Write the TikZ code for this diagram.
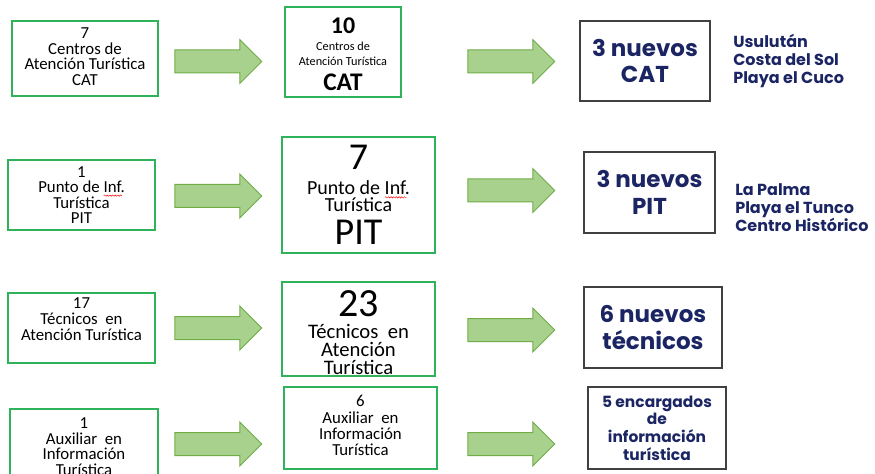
\documentclass[tikz,border=0pt]{standalone}
\usepackage{fontspec}
\usepackage{xcolor}
\setmainfont{Carlito}
\newfontfamily\navyfont{Poppins}
\usetikzlibrary{shapes.arrows}
\usetikzlibrary{decorations.pathmorphing}

\definecolor{boxgreen}{HTML}{2EB35A}
\definecolor{arrowfill}{HTML}{A9D18E}
\definecolor{arrowline}{HTML}{70AD47}
\definecolor{navyblue}{HTML}{1B2563}
\definecolor{framegray}{HTML}{404040}

\newcommand{\pxu}{0.75pt}
\newcommand{\tightlines}{\lineskiplimit=-30pt\relax}
\newcommand{\padabove}[1]{\rule{0pt}{#1}}
\newcommand{\padbelow}[1]{\rule[-#1]{0pt}{#1}}
\newlength{\spellwidth}
\newcommand{\spellwave}[1]{\settowidth{\spellwidth}{#1}\rlap{\tikz[baseline=0pt]\draw[red, line width=0.35pt, decorate, decoration={snake, amplitude=0.5pt, segment length=2pt}] (0pt,-2.2pt) -- (\spellwidth,-2.2pt);}#1}

\tikzset{
    boxtext/.style = {align=center, inner sep=0pt, text centered},
    old_box/.style = {boxtext, rectangle, draw=boxgreen, line width=1.5pt, font=\fontsize{12.6pt}{11.6pt}\selectfont\tightlines},
    new_box/.style = {old_box},
    gain_box/.style = {boxtext, rectangle, draw=framegray, line width=1pt, text=navyblue, font=\navyfont\bfseries\fontsize{17.25pt}{20pt}\selectfont},
    place_list/.style = {boxtext, align=left, anchor=west, text=navyblue, font=\navyfont\bfseries\fontsize{12pt}{13.5pt}\selectfont},
    grow_arrow/.style = {single arrow, draw=arrowline, fill=arrowfill, line width=0.75pt, minimum height=87*\pxu, minimum width=43*\pxu, single arrow head extend=10.5*\pxu, single arrow tip angle=90, inner xsep=0pt, inner ysep=11*\pxu}
}

\begin{document}
\begin{tikzpicture}[x=0.75pt, y=-0.75pt]
    \useasboundingbox (0,0) rectangle (875,474);
    \clip (0,0) rectangle (875,474);

    % centros de atencion
    \node [old_box, minimum width=146*\pxu, minimum height=75*\pxu] (cat_old) at (85,59)
        {7\\Centros de\\Atención Turística\\CAT\padbelow{3.75pt}};
    \node [grow_arrow] (cat_arrow_a) at (212.5,61.5) {};
    \node [new_box, minimum width=116*\pxu, minimum height=90*\pxu, font=\fontsize{9.2pt}{11.25pt}\selectfont\tightlines] (cat_new) at (343,52)
        {\padabove{15.2pt}{\bfseries\fontsize{18pt}{18pt}\selectfont 10}\\[1.5pt]
         Centros de\\
         Atención Turística\\[7.5pt]
         {\bfseries\fontsize{19pt}{19pt}\selectfont CAT}};
    \node [grow_arrow] (cat_arrow_b) at (505.5,61.5) {};
    \node [gain_box, minimum width=130*\pxu, minimum height=80*\pxu] (cat_gain) at (645,61)
        {3 nuevos\\CAT};
    \node [place_list] (cat_places) at (733,61) {Usulután\\Costa del Sol\\Playa el Cuco};

    % puntos de informacion
    \node [old_box, minimum width=147*\pxu, minimum height=70*\pxu] (pit_old) at (81.5,195)
        {1\\Punto de \spellwave{Inf}.\\Turística\\PIT};
    \node [grow_arrow] (pit_arrow_a) at (212.5,196) {};
    \node [new_box, minimum width=153*\pxu, minimum height=116*\pxu, font=\fontsize{15pt}{12.75pt}\selectfont\tightlines] (pit_new) at (358.5,195)
        {{\fontsize{28.5pt}{28.5pt}\selectfont 7}\\[6pt]
         Punto de \spellwave{Inf}.\\
         Turística\\[12.4pt]
         {\fontsize{28.5pt}{28.5pt}\selectfont PIT}};
    \node [grow_arrow] (pit_arrow_b) at (505.5,190.5) {};
    \node [gain_box, minimum width=131*\pxu, minimum height=81*\pxu] (pit_gain) at (649.5,192.5)
        {3 nuevos\\PIT};
    \node [place_list] (pit_places) at (735,208) {La Palma\\Playa el Tunco\\Centro Histórico};

    % tecnicos
    \node [old_box, minimum width=147*\pxu, minimum height=70*\pxu, font=\fontsize{12.6pt}{12pt}\selectfont\tightlines] (tec_old) at (81.5,328)
        {17\\Técnicos~ en\\Atención Turística\padbelow{13.5pt}};
    \node [grow_arrow] (tec_arrow_a) at (212.5,328) {};
    \node [new_box, minimum width=153*\pxu, minimum height=94*\pxu, font=\fontsize{15.5pt}{13.5pt}\selectfont\tightlines] (tec_new) at (358.5,329)
        {\padabove{24.3pt}{\fontsize{30pt}{30pt}\selectfont 23}\\[3pt]
         Técnicos~ en\\
         Atención\\
         Turística};
    \node [grow_arrow] (tec_arrow_b) at (505.5,330) {};
    \node [gain_box, minimum width=138*\pxu, minimum height=81*\pxu] (tec_gain) at (653,327.5)
        {6 nuevos\\técnicos};

    % auxiliares
    \node [old_box, minimum width=148*\pxu, minimum height=75*\pxu] (aux_old) at (84,446.5)
        {1\\Auxiliar~ en\\Información\\Turística};
    \node [grow_arrow] (aux_arrow_a) at (212.5,444) {};
    \node [new_box, minimum width=153*\pxu, minimum height=82*\pxu, font=\fontsize{12.6pt}{11.6pt}\selectfont] (aux_new) at (360.5,428)
        {\raisebox{5pt}{\begin{tabular}{@{}c@{}}6\\Auxiliar~ en\\Información\\Turística\end{tabular}}};
    \node [grow_arrow] (aux_arrow_b) at (505.5,444) {};
    \node [gain_box, minimum width=138*\pxu, minimum height=82*\pxu, font=\navyfont\bfseries\fontsize{11.6pt}{13.2pt}\selectfont] (aux_gain) at (657,428)
        {5 encargados\\de\\información\\turística};
\end{tikzpicture}
\end{document}
